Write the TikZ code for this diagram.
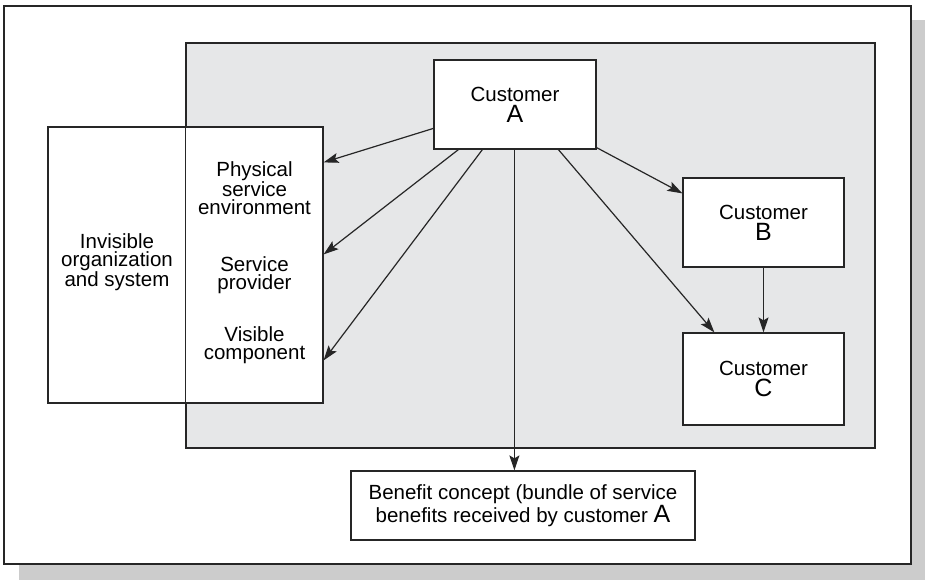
\documentclass[tikz,border=0pt]{standalone}
\usepackage{fontspec}
\setmainfont{Liberation Sans}
\usetikzlibrary{arrows.meta,calc}
\definecolor{panelgray}{HTML}{E6E7E8}
\definecolor{shadowgray}{HTML}{CCCCCC}
\definecolor{ink}{HTML}{262626}
\newcommand{\bigletter}[1]{{\fontsize{25}{21}\selectfont #1}}
\tikzset{
  box/.style={draw=ink, line width=1.2pt, fill=white, inner sep=0pt, align=center,
              font=\fontsize{20.5}{21}\selectfont},
  label/.style={inner sep=0pt, align=center, font=\fontsize{20.5}{18}\selectfont},
  flow/.style={draw=ink, line width=1.2pt, -{Stealth[length=15pt,width=10pt,inset=3pt]}},
}
\begin{document}
\begin{tikzpicture}[x=1pt, y=-1pt]
  \useasboundingbox (0,0) rectangle (925,580);
  % drop shadow and outer frame
  \fill[shadowgray] (19,20) rectangle (925,580);
  \node[draw=ink, line width=1.5pt, fill=white, minimum width=907pt, minimum height=558pt, inner sep=0pt]
    (frame) at (457.5,285) {};
  % shaded service area
  \node[draw=ink, line width=1.2pt, fill=panelgray, minimum width=689pt, minimum height=405pt, inner sep=0pt]
    (panel) at (530.5,245.5) {};
  % organisation block straddling the service area
  \node[box, minimum width=275pt, minimum height=276pt] (org) at (185.5,265) {};
  \draw[ink, line width=1.2pt] (panel.north west) -- (panel.south west);
  \node[label] (invis) at (117,262) {Invisible\\organization\\and system};
  \node[label] (phys) at (254.5,188) {Physical\\service\\environment};
  \node[label] (prov) at (254.5,275) {Service\\provider};
  \node[label] (vis) at (254.5,345) {Visible\\component};
  % customers
  \node[box, minimum width=162pt, minimum height=89pt] (custA) at (515,104.5) {Customer\\\bigletter{A}};
  \node[box, minimum width=161pt, minimum height=89pt] (custB) at (763.5,222.5) {Customer\\\bigletter{B}};
  \node[box, minimum width=161pt, minimum height=92pt] (custC) at (763.5,379) {Customer\\\bigletter{C}};
  % benefit
  \node[box, minimum width=344pt, minimum height=69pt, font=\fontsize{20.5}{20}\selectfont] (benefit) at (523,505.5)
    {Benefit concept (bundle of service\\benefits received by customer \bigletter{A}};
  % connectors
  \draw[flow] ([yshift=-69pt]custA.north west) -- ([yshift=-36pt]org.north east);
  \draw[flow] ([xshift=25pt]custA.south west) -- ([yshift=-128pt]org.north east);
  \draw[flow] ([xshift=49pt]custA.south west) -- ([yshift=-234pt]org.north east);
  \draw[flow] ([xshift=81pt]custA.south west) -- ([xshift=81pt]custA.south west |- benefit.north);
  \draw[flow] ([xshift=125pt]custA.south west) -- ([xshift=32pt]custC.north west);
  \draw[flow] ([yshift=2pt]custA.south east) -- ([yshift=-16pt]custB.north west);
  \draw[flow] (custB.south) -- (custC.north);
\end{tikzpicture}
\end{document}
